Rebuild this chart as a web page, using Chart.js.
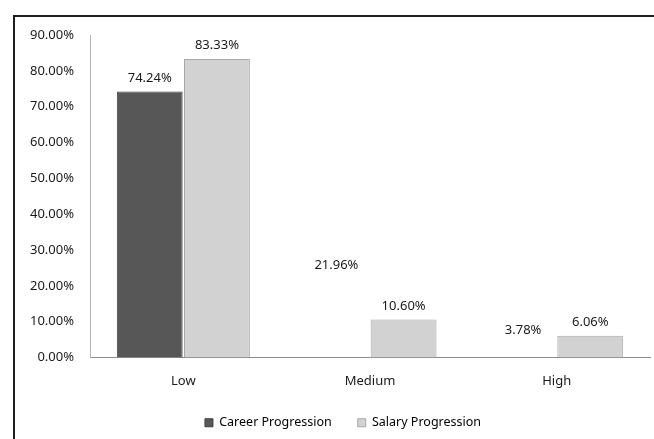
<!DOCTYPE html>
<html>
<head>
<meta charset="utf-8">
<script src="https://cdn.jsdelivr.net/npm/chart.js@4"></script>
<style>
    html, body { margin: 0; padding: 0; background: #fff; }
    #wrap { position: relative; width: 654px; height: 439px; overflow: hidden; }
    #frame {
        position: absolute; left: 13px; top: 15px; width: 700px; height: 500px;
        border-top: 2px solid #1e1e1e; border-left: 2px solid #1e1e1e;
    }
    #chart { position: absolute; left: 0; top: 0; }
</style>
</head>
<body>
<div id="wrap">
    <div id="frame"></div>
    <canvas id="chart" width="654" height="439"></canvas>
</div>
<script>
// Dữ liệu biểu đồ
const categories = ['Low', 'Medium', 'High'];
const careerValues = [74.24, 21.96, 3.78];
const salaryValues = [83.33, 10.60, 6.06];
const seriesNames = ['Career Progression', 'Salary Progression'];
const yTicks = [0, 10, 20, 30, 40, 50, 60, 70, 80, 90];

const FONT = '"Noto Sans", "Open Sans", sans-serif';

// Vẽ nhãn giá trị phía trên mỗi cột
const valueLabels = {
    id: 'valueLabels',
    afterDatasetsDraw(chart) {
        const ctx = chart.ctx;
        ctx.save();
        ctx.font = '13px ' + FONT;
        ctx.fillStyle = '#1a1a1a';
        ctx.textAlign = 'center';
        ctx.textBaseline = 'bottom';
        chart.data.datasets.forEach((ds, i) => {
            const meta = chart.getDatasetMeta(i);
            meta.data.forEach((bar, j) => {
                ctx.fillText(ds.data[j].toFixed(2) + '%', bar.x, bar.y - 7);
            });
        });
        ctx.restore();
    }
};

// Dịch chú thích sang phải một chút giống hình gốc
const legendShift = {
    id: 'legendShift',
    afterLayout(chart) {
        const lg = chart.legend;
        if (lg) {
            lg.left += 18;
            lg.right += 18;
        }
    }
};

const ctx = document.getElementById('chart').getContext('2d');
new Chart(ctx, {
    type: 'bar',
    data: {
        labels: categories,
        datasets: [{
            label: seriesNames[0],
            data: careerValues,
            // hai cột sau không hiện trong hình gốc
            backgroundColor: ['#575757', 'rgba(0,0,0,0)', 'rgba(0,0,0,0)'],
            borderColor: ['#3f3f3f', 'rgba(0,0,0,0)', 'rgba(0,0,0,0)'],
            borderWidth: 1
        }, {
            label: seriesNames[1],
            data: salaryValues,
            backgroundColor: '#d2d2d2',
            borderColor: '#a8a8a8',
            borderWidth: 1
        }]
    },
    options: {
        responsive: false,
        animation: false,
        categoryPercentage: 0.72,
        barPercentage: 0.98,
        layout: { padding: { top: 35, right: 4, left: 0, bottom: 0 } },
        scales: {
            x: {
                grid: { display: false, drawTicks: false },
                border: { display: true, color: '#8c8c8c', width: 1 },
                ticks: { color: '#1a1a1a', font: { family: FONT, size: 13 }, padding: 16 },
                afterFit(scale) { scale.height = 33; }
            },
            y: {
                min: 0,
                max: 90,
                afterBuildTicks(scale) { scale.ticks = yTicks.map(v => ({ value: v })); },
                grid: { display: false, drawTicks: false },
                border: { display: true, color: '#b4b4b4', width: 1 },
                ticks: {
                    color: '#1a1a1a',
                    font: { family: FONT, size: 13 },
                    padding: 16,
                    callback: v => v.toFixed(2) + '%'
                },
                afterFit(scale) { scale.width = 90; }
            }
        },
        plugins: {
            legend: {
                position: 'bottom',
                labels: {
                    boxWidth: 8,
                    boxHeight: 8,
                    padding: 26,
                    color: '#1a1a1a',
                    font: { family: FONT, size: 12.5 },
                    generateLabels(chart) {
                        return chart.data.datasets.map((ds, i) => ({
                            text: ds.label,
                            fillStyle: i === 0 ? '#575757' : '#d2d2d2',
                            strokeStyle: i === 0 ? '#3f3f3f' : '#a8a8a8',
                            lineWidth: 1,
                            datasetIndex: i
                        }));
                    }
                }
            },
            tooltip: { enabled: false }
        }
    },
    plugins: [valueLabels, legendShift]
});
</script>
</body>
</html>
